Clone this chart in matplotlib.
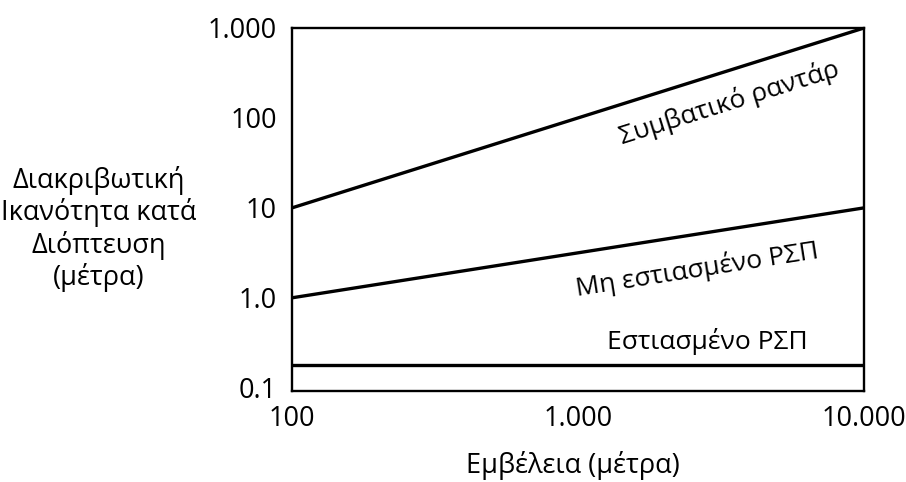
import numpy as np
import matplotlib
matplotlib.use("Agg")
import matplotlib.pyplot as plt
from matplotlib.ticker import FixedLocator, FixedFormatter, NullLocator

plt.rcParams['font.family'] = ['Open Sans', 'DejaVu Sans']

# Data
range_m = [100, 10000]
conventional = [10, 1000]
unfocused = [1.0, 10]
focused = [0.18, 0.18]
x_ticks = [100, 1000, 10000]
x_ticklabels = ["100", "1.000", "10.000"]
y_ticks = [0.1, 1.0, 10, 100, 1000]
y_ticklabels = ["0.1", "1.0", "10", "100", "1.000"]
series_labels = ["Συμβατικό ραντάρ", "Μη εστιασμένο ΡΣΠ", "Εστιασμένο ΡΣΠ"]

fig = plt.figure(figsize=(9.06, 4.82), dpi=100)
ax = fig.add_axes([292/906, 1-391/482, 572/906, 363/482])
ax.set_xscale('log')
ax.set_yscale('log')
ax.set_xlim(100, 10000)
ax.set_ylim(0.092, 1000)

lw = 2.4
ax.plot(range_m, conventional, color='black', lw=lw, solid_capstyle='butt')
ax.plot(range_m, unfocused, color='black', lw=lw, solid_capstyle='butt')
ax.plot(range_m, focused, color='black', lw=lw, solid_capstyle='butt')

for s in ax.spines.values():
    s.set_linewidth(1.7)

ax.xaxis.set_major_locator(FixedLocator(x_ticks))
ax.xaxis.set_major_formatter(FixedFormatter(x_ticklabels))
ax.yaxis.set_major_locator(FixedLocator(y_ticks))
ax.yaxis.set_major_formatter(FixedFormatter(y_ticklabels))
ax.xaxis.set_minor_locator(NullLocator())
ax.yaxis.set_minor_locator(NullLocator())
ax.tick_params(axis='both', length=0, labelsize=19.5)
ax.tick_params(axis='y', pad=11)
ax.tick_params(axis='x', pad=10)

def angle(xs, ys):
    p = ax.transData.transform(np.column_stack([xs, ys]))
    return np.degrees(np.arctan2(p[1, 1]-p[0, 1], p[1, 0]-p[0, 0]))

fs = 19
ax.text(0.764, 0.793, series_labels[0], transform=ax.transAxes, ha='center', va='center',
        rotation=angle(range_m, conventional), rotation_mode='anchor', fontsize=fs)
ax.text(0.708, 0.335, series_labels[1], transform=ax.transAxes, ha='center', va='center',
        rotation=angle(range_m, unfocused), rotation_mode='anchor', fontsize=fs)
ax.text(0.727, 0.135, series_labels[2], transform=ax.transAxes, ha='center', va='center',
        fontsize=fs)

fig.text(573/906, 1-465/482, "Εμβέλεια (μέτρα)", ha='center', va='center', fontsize=19.5)
fig.text(99/906, 1-229/482, "Διακριβωτική\nΙκανότητα κατά\nΔιόπτευση\n(μέτρα)",
         ha='center', va='center', multialignment='center', fontsize=19.5, linespacing=1.15)

fig.savefig("out.png", dpi=100)
